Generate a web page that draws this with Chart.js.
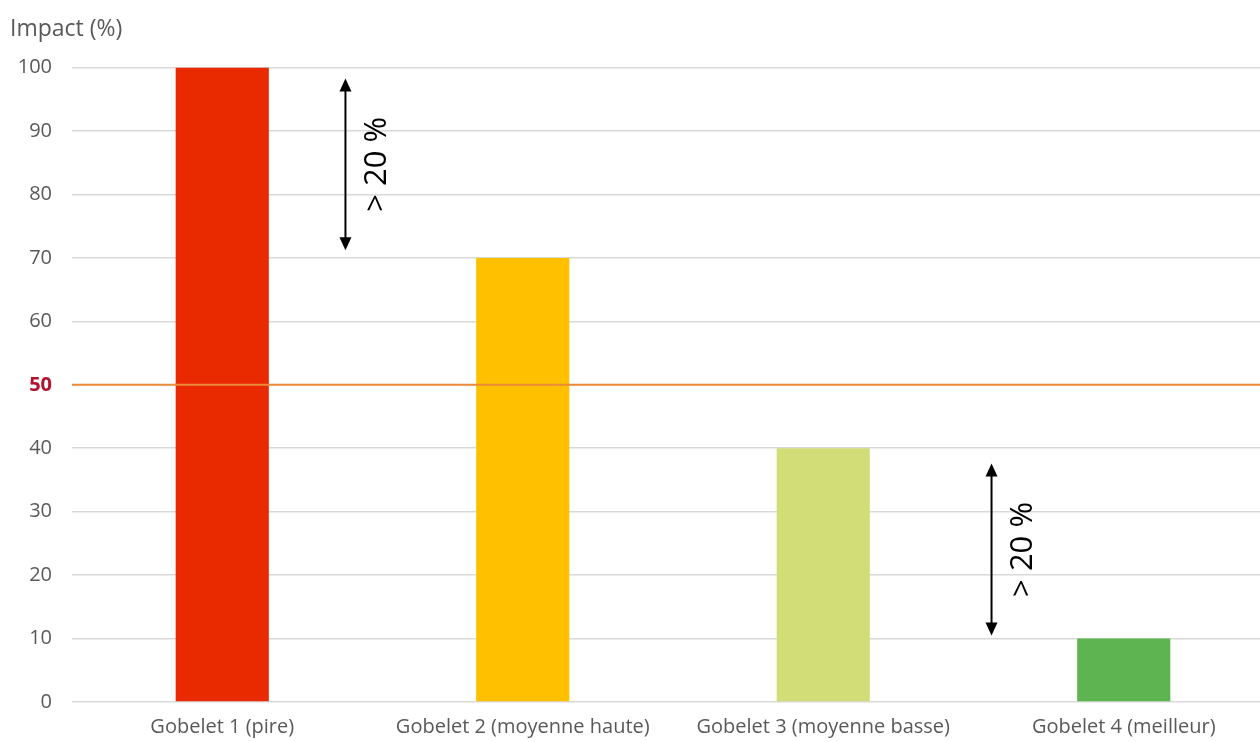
<!DOCTYPE html>
<html>
<head>
<meta charset="utf-8">
<script src="https://cdn.jsdelivr.net/npm/chart.js@4"></script>
<style>
  html, body { margin: 0; padding: 0; background: #fff; overflow: hidden; }
  #wrap { width: 1274px; height: 742px; }
</style>
</head>
<body>
<div id="wrap"><canvas id="impact"></canvas></div>
<script>
// data
const gobelets = [
  "Gobelet 1 (pire)",
  "Gobelet 2 (moyenne haute)",
  "Gobelet 3 (moyenne basse)",
  "Gobelet 4 (meilleur)",
];
const impact = [100, 70, 40, 10];
const barColors = ["#E92A00", "#FFC000", "#D3DD78", "#5DB451"];
const yTicks = [0, 10, 20, 30, 40, 50, 60, 70, 80, 90, 100];
const refLine = 50;

// "> 20 %" arrows (x as category index, y as impact value)
const arrowX = [0.41, 2.56];
const arrowTop = [98.3, 37.6];
const arrowBottom = [71.2, 10.5];
const arrowLabel = ["> 20 %", "> 20 %"];

const FONT = "'Open Sans', 'Noto Sans', sans-serif";

const extras = {
  id: "extras",
  afterDatasetsDraw(chart) {
    const ctx = chart.ctx;
    const x = chart.scales.x;
    const y = chart.scales.y;
    const area = chart.chartArea;

    // 50 % line
    const yl = y.getPixelForValue(refLine);
    ctx.save();
    ctx.strokeStyle = "#ED8B3A";
    ctx.lineWidth = 2;
    ctx.beginPath();
    ctx.moveTo(area.left, yl);
    ctx.lineTo(area.right, yl);
    ctx.stroke();
    ctx.restore();

    // arrows
    for (let i = 0; i < arrowX.length; i++) {
      const px = x.getPixelForValue(arrowX[i]);
      const y1 = y.getPixelForValue(arrowTop[i]);
      const y2 = y.getPixelForValue(arrowBottom[i]);
      ctx.save();
      ctx.strokeStyle = "#000";
      ctx.fillStyle = "#000";
      ctx.lineWidth = 2;
      ctx.beginPath();
      ctx.moveTo(px, y1 + 8);
      ctx.lineTo(px, y2 - 8);
      ctx.stroke();
      ctx.beginPath();
      ctx.moveTo(px, y1);
      ctx.lineTo(px - 6, y1 + 13);
      ctx.lineTo(px + 6, y1 + 13);
      ctx.closePath();
      ctx.fill();
      ctx.beginPath();
      ctx.moveTo(px, y2);
      ctx.lineTo(px - 6, y2 - 13);
      ctx.lineTo(px + 6, y2 - 13);
      ctx.closePath();
      ctx.fill();

      ctx.translate(px + 32, (y1 + y2) / 2);
      ctx.rotate(-Math.PI / 2);
      ctx.font = "31px " + FONT;
      ctx.textAlign = "center";
      ctx.textBaseline = "middle";
      ctx.fillText(arrowLabel[i], 0, 0);
      ctx.restore();
    }
  },
};

const ctx = document.getElementById("impact");
new Chart(ctx, {
  type: "bar",
  data: {
    labels: gobelets,
    datasets: [
      {
        label: "Impact",
        data: impact,
        backgroundColor: barColors,
        categoryPercentage: 1,
        barPercentage: 0.31,
      },
    ],
  },
  options: {
    responsive: true,
    maintainAspectRatio: false,
    animation: false,
    layout: { padding: { left: 10, right: 0, top: 16, bottom: 2 } },
    plugins: {
      legend: { display: false },
      tooltip: { enabled: false },
      title: {
        display: true,
        text: "Impact (%)",
        align: "start",
        color: "#595959",
        font: { family: FONT, size: 23, weight: "normal" },
        padding: { top: 0, bottom: 24 },
      },
    },
    scales: {
      x: {
        grid: { display: false, drawTicks: false },
        border: { display: false },
        afterFit: (scale) => {
          scale.height = 38;
        },
        ticks: {
          color: "#595959",
          font: { family: FONT, size: 20 },
          padding: 13,
          maxRotation: 0,
        },
      },
      y: {
        min: 0,
        max: 100,
        afterBuildTicks: (scale) => {
          scale.ticks = yTicks.map((v) => ({ value: v }));
        },
        afterFit: (scale) => {
          scale.width = 62;
        },
        grid: { color: "#D9D9D9", lineWidth: 1.5, drawTicks: false },
        border: { display: false },
        ticks: {
          padding: 20,
          color: (c) => (c.tick.value === refLine ? "#B0142C" : "#595959"),
          font: (c) => ({
            family: FONT,
            size: 20,
            weight: c.tick && c.tick.value === refLine ? "bold" : "normal",
          }),
        },
      },
    },
  },
  plugins: [extras],
});
</script>
</body>
</html>
